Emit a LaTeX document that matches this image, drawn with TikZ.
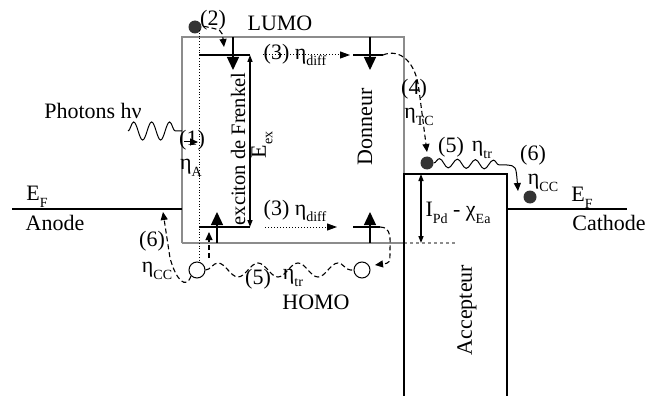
\documentclass[tikz,border=0pt]{standalone}
\usepackage{fontspec}
\setmainfont{Liberation Serif}
\usetikzlibrary{arrows.meta,decorations.pathmorphing}
\definecolor{boxgray}{gray}{0.55}
\definecolor{dotgray}{gray}{0.2}
\newcommand\lsub[1]{\raisebox{-0.3em}{\fontsize{14}{14}\selectfont #1}}
\begin{document}
\begin{tikzpicture}[x=1pt,y=-1pt,
  lbl/.style={font=\fontsize{22}{25}\selectfont, inner sep=0pt},
  graybox/.style={draw=boxgray, line width=1.8pt},
  blk/.style={draw=black, line width=1.3pt},
  bigtip/.style={-{Triangle[length=13pt,width=12pt]}},
  medtip/.style={-{Triangle[length=8pt,width=7pt]}},
  dbltip/.style={{Triangle[length=7pt,width=5pt]}-{Triangle[length=7pt,width=5pt]}},
  dsh/.style={dash pattern=on 5pt off 3pt, line width=1.1pt},
  dtt/.style={dotted, line width=1pt},
  eldot/.style={circle, fill=dotgray, minimum size=13pt, inner sep=0pt},
  hole/.style={circle, draw, minimum size=16pt, inner sep=0pt, line width=1pt},
]
\useasboundingbox (0,0) rectangle (657,396);
% boxes
\draw[graybox] (182,243) -- (182,37) -- (404,37) -- (404,174);
\draw[graybox] (182,243) -- (404,243);
\draw[draw=boxgray, line width=1.2pt, dashed] (404,243) -- (457,243);
\draw[blk] (404,396) -- (404,174) -- (507,174) -- (507,396);
\draw[blk] (12,209) -- (182,209);
\draw[blk] (507,209) -- (627,209);
% particles
\node[eldot] (e1) at (195,27) {};
\node[eldot] (e2) at (427,163) {};
\node[eldot] (e3) at (530,197) {};
\node[hole] (h1) at (197,270) {};
\node[hole] (h2) at (362,270) {};
% dotted vertical
\draw[dotted, line width=0.8pt] (199,30) -- (199,262);
% inner levels
\draw[blk] (199,55) -- (250,55);
\draw[blk] (353,55) -- (383,55);
\draw[blk] (199,227) -- (250,227);
\draw[blk] (353,227) -- (380,227);
\draw[blk, dbltip] (250,227) -- (250,55);
\draw[blk, bigtip] (233,37) -- (233,70);
\draw[blk, bigtip] (370,37) -- (370,70);
\draw[blk, bigtip] (217,243) -- (217,212);
\draw[blk, bigtip] (370,243) -- (370,212);
\draw[blk, dbltip] (421,243) -- (421,174);
% dotted diffusion arrows
\draw[dtt, -{Triangle[length=10pt,width=7pt]}] (263,55) -- (350,55);
\draw[dtt, -{Triangle[length=10pt,width=7pt]}] (265,227) -- (337,227);
% photon
\draw[line width=1pt, decorate, decoration={snake, segment length=18pt, amplitude=9pt}] (128,131) -- (182,131);
\draw[line width=1pt, medtip] (184,142) -- (198,142);
% dashed paths
\draw[dsh, medtip] (e1.north east) ++(4,4) .. controls (222,30) .. (224,47);
\draw[dsh, medtip] (383,55) .. controls (400,48) and (416,62) .. (419,90) -- (427,152);
\draw[line width=1pt, medtip] (e2.east) decorate[decoration={snake, segment length=18pt, amplitude=4.5pt}]{-- (507,165)} .. controls (516,166) .. (518,191);
\draw[dsh, decorate, decoration={snake, segment length=40pt, amplitude=7pt}] (h1.east) -- (h2.west);
\draw[dsh, medtip] (h1.south west) .. controls (186,290) and (176,280) .. (170,258) -- (163,212);
\draw[dsh, medtip] (209,258) -- (209,232);
\draw[dsh, medtip] (380,227) .. controls (392,227) and (390,240) .. (390,250) .. controls (390,263) .. (375,265);
% labels
\node[lbl] (lumo) at (280,23) {LUMO};
\node[lbl] (n2) at (213,20) {(2)};
\node[lbl] (photons) at (93,111) {Photons hν};
\node[lbl] (n1) at (192,140) {(1)};
\node[lbl] (etaA) at (191,168) {η\lsub{A}};
\node[lbl, rotate=90, font=\fontsize{20.5}{24}\selectfont] (frenkel) at (238,149) {exciton de Frenkel};
\node[lbl, rotate=90] (eex) at (262,145) {E\lsub{ex}};
\node[lbl, rotate=90] (donneur) at (365,127) {Donneur};
\node[lbl] (d3t) at (295,55) {(3) η\lsub{diff}};
\node[lbl] (d3b) at (295,211) {(3) η\lsub{diff}};
\node[lbl] (n4) at (414,89) {(4)};
\node[lbl] (etaTC) at (419,117) {η\lsub{TC}};
\node[lbl] (n5t) at (451,147) {(5)};
\node[lbl] (etatrt) at (482,150) {η\lsub{tr}};
\node[lbl] (n6r) at (533,155) {(6)};
\node[lbl] (etaccr) at (543,183) {η\lsub{CC}};
\node[lbl] (efr) at (582,198) {E\lsub{F}};
\node[lbl] (cathode) at (609,223) {Cathode};
\node[lbl] (efl) at (37,197) {E\lsub{F}};
\node[lbl] (anode) at (55,223) {Anode};
\node[lbl] (n6l) at (152,241) {(6)};
\node[lbl] (etaccl) at (157,271) {η\lsub{CC}};
\node[lbl] (n5b) at (258,279) {(5)};
\node[lbl] (etatrb) at (293,278) {η\lsub{tr}};
\node[lbl] (homo) at (316,302) {HOMO};
\node[lbl] (ipd) at (458,213) {I\lsub{Pd} - χ\lsub{Ea}};
\node[lbl, rotate=90] (acc) at (467,310) {Accepteur};
\end{tikzpicture}
\end{document}
